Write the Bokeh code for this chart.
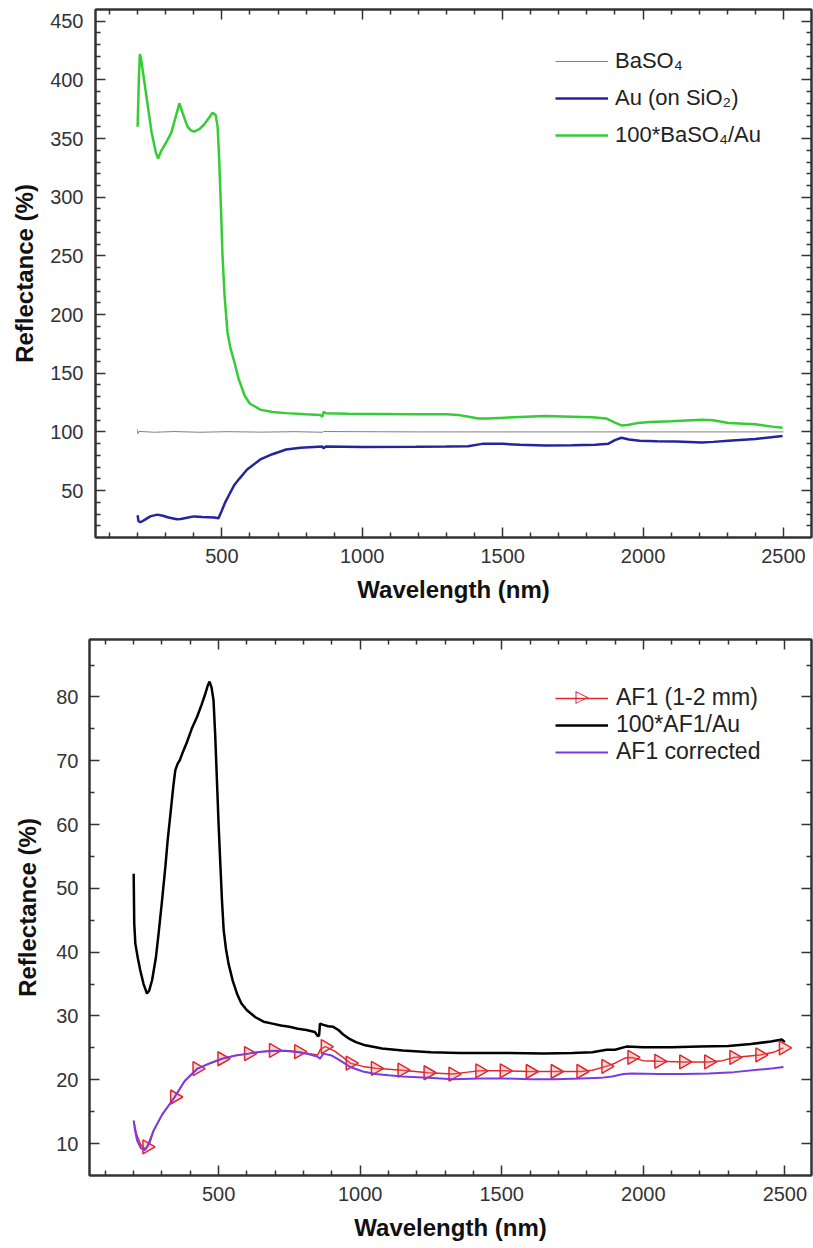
import math
from bokeh.plotting import figure
from bokeh.models import (LinearAxis, FixedTicker, Legend, LegendItem, Range1d,
                          CustomJSTickFormatter, Label)
from bokeh.embed import file_html
from bokeh.resources import INLINE

# ---------------- data: top panel ----------------
baso4_wl = [200, 201, 205, 260, 330, 420, 520, 640, 760, 858, 862, 1200, 1600, 2000, 2500]
baso4_val = [102, 98.5, 100.4, 99.7, 100.3, 99.7, 100.2, 99.8, 100.2, 99.7, 100.3, 100, 100, 100, 100]

au_wl = [200, 203, 210, 225, 245, 270, 290, 310, 340, 354, 380, 401, 430, 473, 488,
         500, 512, 525, 545, 562, 590, 637, 680, 729, 780, 858, 862, 870, 1000, 1191,
         1300, 1377, 1432, 1500, 1562, 1650, 1748, 1830, 1877, 1900, 1923, 1950, 1988,
         2050, 2118, 2210, 2250, 2304, 2400, 2497]
au_val = [29, 24, 23, 25, 28, 29.5, 28.5, 27, 25.5, 25.8, 27, 28, 27.5, 27, 26.5,
          33, 40, 46, 55, 60, 68, 76.5, 81, 85, 86.5, 87.5, 86, 87.5, 87.2, 87.3,
          87.5, 87.8, 90, 89.8, 89, 88.5, 88.7, 89, 90, 93, 95, 93.5, 92.5,
          92, 91.8, 91, 91.5, 92.5, 94, 96.5]

ratio_wl = [200, 205, 208, 212, 220, 235, 250, 265, 273, 285, 300, 320, 335, 349, 360,
            378, 390, 401, 420, 437, 455, 467, 478, 485, 490, 497, 502, 510, 520, 530,
            544, 560, 581, 600, 637, 680, 729, 800, 850, 858, 862, 870, 950, 1050, 1191,
            1300, 1340, 1380, 1414, 1450, 1500, 1562, 1650, 1748, 1820, 1868, 1900, 1923,
            1945, 1980, 2025, 2100, 2210, 2250, 2304, 2400, 2460, 2497]
ratio_val = [360, 405, 422, 418, 405, 380, 355, 338, 333, 340, 346, 355, 368, 380, 372,
             360, 357, 356, 358, 362, 368, 372, 370, 360, 335, 290, 252, 215, 185, 172,
             160, 145, 131, 124, 119, 117, 116, 115, 114.5, 113, 117, 116, 115.5, 115.3, 115,
             115, 114.5, 113, 111.5, 111.5, 112, 112.7, 113.5, 113, 112.5, 111.5, 108, 105.5,
             105.8, 107.5, 108.5, 109, 110.3, 110, 107.6, 106.5, 104.5, 103.5]

# ---------------- data: bottom panel ----------------
af1au_wl = [200, 202, 206, 215, 223, 235, 247, 255, 265, 278, 288, 300, 312, 320, 330,
            340, 347, 355, 363, 375, 388, 405, 424, 440, 453, 462, 468, 475, 482, 488,
            494, 500, 506, 512, 518, 526, 535, 550, 565, 580, 600, 630, 659, 690, 720,
            750, 780, 810, 840, 851, 855, 858, 870, 887, 905, 923, 940, 959, 985, 1018,
            1077, 1150, 1250, 1350, 1500, 1650, 1750, 1820, 1870, 1900, 1940, 2000, 2100,
            2200, 2300, 2380, 2450, 2490, 2500]
af1au_val = [52.3, 44.5, 41.3, 39, 37.2, 35, 33.5, 34, 35.6, 39, 42.9, 48, 53.4, 57.5, 61.7,
             66, 68.5, 69.5, 70.1, 71.5, 72.9, 75, 76.9, 78.8, 80.5, 81.8, 82.4, 81.5, 79.5, 74,
             67, 60, 53.9, 48, 43.4, 40.5, 38.2, 35.5, 33.5, 32, 30.9, 29.8, 29.1, 28.8, 28.5,
             28.3, 28, 27.8, 27.5, 26.8, 27, 28.8, 28.6, 28.4, 28.3, 27.8, 27.1, 26.5, 25.9, 25.4,
             24.9, 24.6, 24.3, 24.2, 24.2, 24.1, 24.2, 24.3, 24.7, 24.7, 25.2, 25.1, 25.1,
             25.2, 25.3, 25.6, 26.0, 26.3, 25.9]

af1_wl = [200, 210, 225, 240, 247, 270, 300, 345, 380, 424, 470, 512, 560, 606, 650,
          694, 740, 783, 820, 850, 860, 877, 910, 940, 965, 1010, 1054, 1148, 1240, 1328,
          1380, 1423, 1509, 1601, 1689, 1780, 1820, 1868, 1900, 1935, 1960, 2000, 2055,
          2143, 2231, 2280, 2320, 2412, 2460, 2495]
af1_val = [13.6, 11.5, 9.8, 9.2, 9.5, 12, 14.5, 17.3, 19.8, 21.75, 22.6, 23.3, 23.8, 24.1, 24.4,
           24.6, 24.6, 24.4, 24.1, 23.9, 24.8, 25.2, 24.5, 23.5, 22.6, 22.1, 21.8, 21.5, 21.1, 20.9,
           21.2, 21.4, 21.4, 21.3, 21.3, 21.3, 21.5, 22.1, 22.6, 23.4, 23.5, 23.0, 22.9,
           22.8, 22.8, 23.0, 23.5, 23.9, 24.3, 25.0]

af1_marker_wl = [247, 345, 424, 512, 606, 694, 783, 877, 965, 1054, 1148, 1240, 1328,
                 1423, 1509, 1601, 1689, 1780, 1868, 1960, 2055, 2143, 2231, 2320, 2412, 2495]
af1_marker_val = [9.5, 17.3, 21.75, 23.3, 24.1, 24.6, 24.4, 25.2, 22.6, 21.8, 21.5, 21.1, 20.9,
                  21.4, 21.4, 21.3, 21.3, 21.3, 22.1, 23.5, 22.9, 22.8, 22.8, 23.5, 23.9, 25.0]

corr_wl = [200, 205, 212, 225, 240, 255, 270, 300, 345, 380, 424, 470, 512, 560, 606,
           650, 694, 740, 783, 820, 850, 858, 870, 900, 930, 965, 1010, 1054, 1100, 1148,
           1240, 1328, 1423, 1509, 1601, 1689, 1780, 1850, 1890, 1930, 1960, 2055, 2143,
           2231, 2320, 2412, 2460, 2495]
corr_val = [13.6, 12, 10.5, 9.3, 9.0, 10, 12, 14.5, 17.3, 19.8, 21.7, 22.6, 23.3, 23.8, 24.1,
            24.4, 24.5, 24.5, 24.3, 24, 23.6, 23.3, 24.1, 23.8, 23, 22, 21.3, 20.9, 20.7, 20.5,
            20.3, 20.1, 20.2, 20.2, 20.1, 20.1, 20.2, 20.3, 20.5, 20.9, 21.0, 20.9, 20.9,
            21.0, 21.2, 21.6, 21.8, 22.0]

x_major = [500, 1000, 1500, 2000, 2500]
x_minor = [100, 200, 300, 400, 600, 700, 800, 900, 1100, 1200, 1300, 1400, 1600, 1700,
           1800, 1900, 2100, 2200, 2300, 2400]
top_y_major = [50, 100, 150, 200, 250, 300, 350, 400, 450]
top_y_minor = [v for v in range(20, 460, 10) if v % 50 != 0]
bot_y_major = [10, 20, 30, 40, 50, 60, 70, 80]
bot_y_minor = [15, 25, 35, 45, 55, 65, 75, 85]

FONT = "Liberation Sans"
AX = "#333333"


def style(p, xmaj, xmin, ymaj, ymin, ylab_standoff, ytitle_standoff):
    xt = FixedTicker(ticks=xmaj, minor_ticks=xmin)
    yt = FixedTicker(ticks=ymaj, minor_ticks=ymin)
    bottom = p.below[0]
    left = p.left[0]
    empty = CustomJSTickFormatter(code="return ''")
    top = LinearAxis(ticker=xt, formatter=empty)
    right = LinearAxis(ticker=yt, formatter=empty)
    p.add_layout(top, "above")
    p.add_layout(right, "right")
    for ax in [bottom, left, top, right]:
        ax.axis_line_color = AX
        ax.axis_line_width = 2
        ax.major_tick_line_color = AX
        ax.minor_tick_line_color = AX
        ax.major_tick_line_width = 1.5
        ax.minor_tick_line_width = 1.5
        ax.major_tick_in = 10
        ax.major_tick_out = 0
        ax.minor_tick_in = 5
        ax.minor_tick_out = 0
        ax.major_label_text_font = FONT
        ax.major_label_text_font_size = "20px"
        ax.major_label_text_color = AX
        ax.axis_label_text_font = FONT
        ax.axis_label_text_font_style = "bold"
        ax.axis_label_text_font_size = "24px"
        ax.axis_label_text_color = "#111111"
    top.major_label_standoff = 0
    right.major_label_standoff = 0
    bottom.ticker = xt
    left.ticker = yt
    bottom.major_label_standoff = 11
    bottom.axis_label_standoff = 10
    left.major_label_standoff = ylab_standoff
    left.axis_label_standoff = ytitle_standoff
    bottom.axis_label = "Wavelength (nm)"
    left.axis_label = "Reflectance (%)"
    p.xgrid.visible = False
    p.ygrid.visible = False
    p.outline_line_color = AX
    p.outline_line_width = 2


# ---------------- top figure ----------------
p1 = figure(width=813, height=620, output_backend="svg", toolbar_location=None,
            x_range=Range1d(50, 2600), y_range=Range1d(10, 460),
            min_border_left=95, min_border_right=2, min_border_top=9, min_border_bottom=83)
style(p1, x_major, x_minor, top_y_major, top_y_minor, 12, 9)

r_b = p1.line(baso4_wl, baso4_val, line_color="#808080", line_width=1)
r_a = p1.line(au_wl, au_val, line_color="#24249c", line_width=2.5)
r_g = p1.line(ratio_wl, ratio_val, line_color="#36cc36", line_width=2.5)

leg1 = Legend(items=[LegendItem(label="BaSO\u2084", renderers=[r_b]),
                     LegendItem(label="Au (on SiO\u2082)", renderers=[r_a]),
                     LegendItem(label="100*BaSO\u2084/Au", renderers=[r_g])],
              location=(460, 387), padding=0, margin=0,
              border_line_alpha=0, background_fill_alpha=0,
              glyph_width=53, glyph_height=30, label_height=30, spacing=7,
              label_standoff=7, label_text_font=FONT, label_text_font_size="22px",
              label_text_color="#222222")
p1.add_layout(leg1)

# ---------------- bottom figure ----------------
p2 = figure(width=813, height=628, output_backend="svg", toolbar_location=None,
            x_range=Range1d(44, 2594), y_range=Range1d(5, 89),
            min_border_left=89, min_border_right=2, min_border_top=19, min_border_bottom=73)
style(p2, x_major, x_minor, bot_y_major, bot_y_minor, 11, 12)

r_k = p2.line(af1au_wl, af1au_val, line_color="#000000", line_width=2.5)
r_r = p2.line(af1_wl, af1_val, line_color="#e0282c", line_width=1.5)
r_m = p2.scatter(af1_marker_wl, af1_marker_val, marker="triangle", angle=-math.pi / 2,
                 size=14, line_color="#e0282c", line_width=1.5,
                 fill_color="#f08080", fill_alpha=0.3)
r_p = p2.line(corr_wl, corr_val, line_color="#7a3be0", line_width=2)

leg2 = Legend(items=[LegendItem(label="AF1 (1-2 mm)", renderers=[r_r]),
                     LegendItem(label="100*AF1/Au", renderers=[r_k]),
                     LegendItem(label="AF1 corrected", renderers=[r_p])],
              location=(466, 410), padding=0, margin=0,
              border_line_alpha=0, background_fill_alpha=0,
              glyph_width=53, glyph_height=24, label_height=24, spacing=0,
              label_standoff=8, label_text_font=FONT, label_text_font_size="23px",
              label_text_color="#222222")
p2.add_layout(leg2)
# right-pointing open triangle drawn over the legend line (legend markers cannot rotate)
p2.add_layout(Label(x=492.5, y=480, x_units="screen", y_units="screen", text="\u25b7",
                    text_align="center", text_baseline="middle", text_color="#e0282c",
                    text_font="DejaVu Sans", text_font_size="17px"))

# two separate roots so that the plot frames are not aligned to each other
open("out.html", "w").write(file_html([p1, p2], INLINE))
